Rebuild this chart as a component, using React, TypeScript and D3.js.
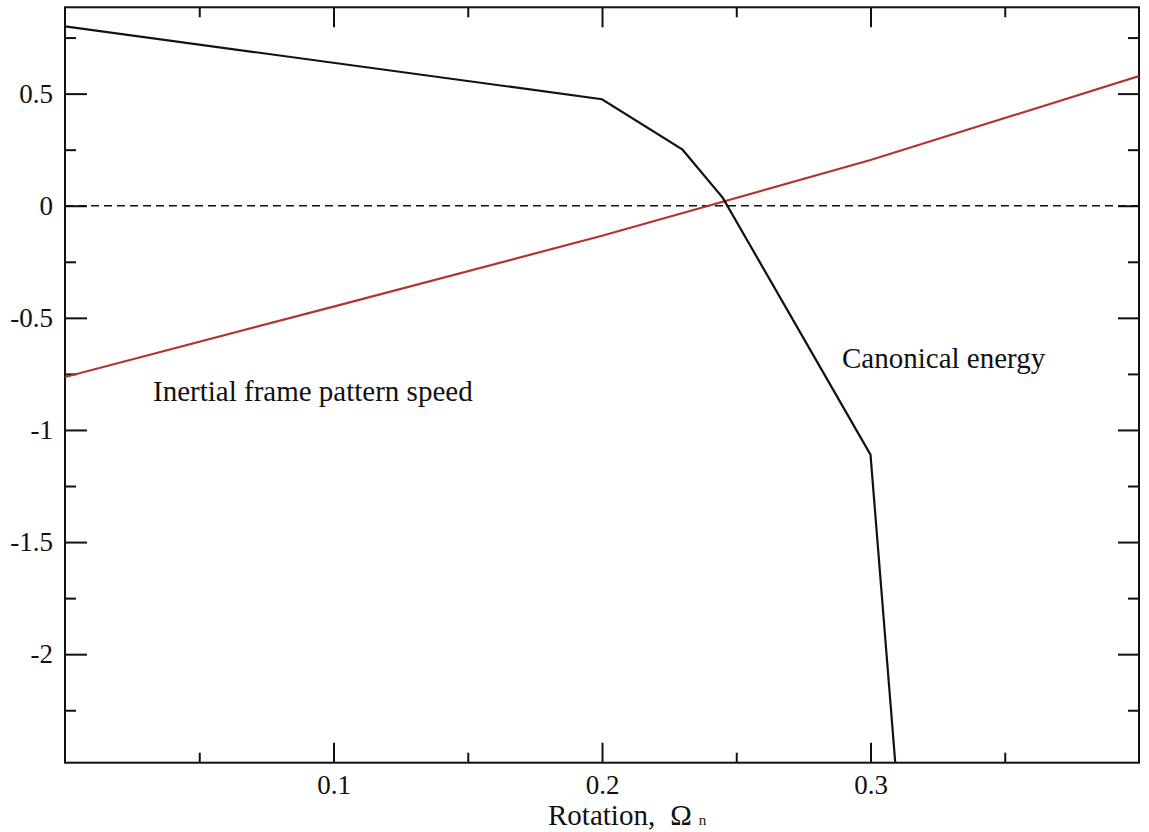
import React, { useEffect, useRef } from "react";
import * as d3 from "d3";

// rotation values (x) and the two curves
const canonicalX = [0, 0.2, 0.23, 0.245, 0.3, 0.31];
const canonicalY = [0.8, 0.475, 0.25, 0.035, -1.11, -2.6];
const patternX = [0, 0.1, 0.2, 0.3, 0.4];
const patternY = [-0.764, -0.45, -0.134, 0.204, 0.578];

const xMajor = [0.1, 0.2, 0.3];
const xMinor = [0.05, 0.15, 0.25, 0.35];
const yMajor = [0.5, 0, -0.5, -1, -1.5, -2];
const yMinor = [0.75, 0.25, -0.25, -0.75, -1.25, -1.75, -2.25];

const App = () => {
  const ref = useRef<SVGSVGElement>(null);

  useEffect(() => {
    draw();
  });

  const draw = () => {
    const root = d3.select(ref.current);
    root.selectAll("*").remove();

    const margin = { top: 7.3, left: 65, right: 10, bottom: 69.3 };
    const width = 1149 - margin.left - margin.right;
    const height = 832 - margin.top - margin.bottom;
    const font = "'Liberation Serif', 'Times New Roman', serif";

    const x = d3.scaleLinear().domain([0, 0.4]).range([0, width]);
    const y = d3.scaleLinear().domain([-2.484, 0.885]).range([height, 0]);

    const svg = root
      .append("g")
      .attr("transform", `translate(${margin.left}, ${margin.top})`);

    svg
      .append("defs")
      .append("clipPath")
      .attr("id", "plotClip")
      .append("rect")
      .attr("width", width)
      .attr("height", height);

    // ticks on all four sides, pointing inward
    const axes: [any, number, string, boolean][] = [
      [d3.axisBottom(x).tickValues(xMajor).tickSize(-20), height, "b", true],
      [d3.axisBottom(x).tickValues(xMinor).tickSize(-10), height, "b", false],
      [d3.axisTop(x).tickValues(xMajor).tickSize(-20), 0, "t", false],
      [d3.axisTop(x).tickValues(xMinor).tickSize(-10), 0, "t", false],
      [d3.axisLeft(y).tickValues(yMajor).tickSize(-22), 0, "l", true],
      [d3.axisLeft(y).tickValues(yMinor).tickSize(-11), 0, "l", false],
      [d3.axisRight(y).tickValues(yMajor).tickSize(-21), width, "r", false],
      [d3.axisRight(y).tickValues(yMinor).tickSize(-11), width, "r", false],
    ];

    axes.forEach(([axis, offset, side, withLabels]) => {
      axis
        .tickSizeOuter(0)
        .tickPadding(12)
        .tickFormat(withLabels ? (d: number) => String(d) : () => "");
      const g = svg
        .append("g")
        .attr(
          "transform",
          side === "b" || side === "t" ? `translate(0, ${offset})` : `translate(${offset}, 0)`
        )
        .call(axis);
      g.select(".domain").remove();
      g.selectAll("line").attr("stroke", "#111").attr("stroke-width", 2);
      g.selectAll("text")
        .attr("fill", "#111")
        .style("font-family", font)
        .style("font-size", "27px");
      if (side === "b") g.selectAll("text").attr("y", 12).attr("dy", "0.71em");
    });

    svg
      .append("rect")
      .attr("width", width)
      .attr("height", height)
      .attr("fill", "none")
      .attr("stroke", "#111")
      .attr("stroke-width", 2);

    const plot = svg.append("g").attr("clip-path", "url(#plotClip)");

    plot
      .append("line")
      .attr("x1", x(0))
      .attr("x2", x(0.4))
      .attr("y1", y(0))
      .attr("y2", y(0))
      .attr("stroke", "#111")
      .attr("stroke-width", 1.6)
      .attr("stroke-dasharray", "8,5");

    const line = d3
      .line<[number, number]>()
      .x((d) => x(d[0]))
      .y((d) => y(d[1]));

    plot
      .append("path")
      .datum(patternX.map((d, i) => [d, patternY[i]] as [number, number]))
      .attr("fill", "none")
      .attr("stroke", "#b3342f")
      .attr("stroke-width", 2.2)
      .attr("d", line);

    plot
      .append("path")
      .datum(canonicalX.map((d, i) => [d, canonicalY[i]] as [number, number]))
      .attr("fill", "none")
      .attr("stroke", "#111")
      .attr("stroke-width", 2.2)
      .attr("d", line);

    svg
      .append("text")
      .attr("x", 153 - margin.left)
      .attr("y", 401 - margin.top)
      .style("font-family", font)
      .style("font-size", "29px")
      .attr("fill", "#111")
      .text("Inertial frame pattern speed");

    svg
      .append("text")
      .attr("x", 842 - margin.left)
      .attr("y", 368 - margin.top)
      .style("font-family", font)
      .style("font-size", "29px")
      .attr("fill", "#111")
      .text("Canonical energy");

    const title = svg
      .append("text")
      .attr("x", 548 - margin.left)
      .attr("y", 825 - margin.top)
      .style("font-family", font)
      .style("font-size", "29px")
      .attr("fill", "#111");
    title.append("tspan").text("Rotation,");
    title.append("tspan").attr("dx", 15).text("Ω");
    title.append("tspan").attr("dx", 7).style("font-size", "15px").text("n");
  };

  return (
    <div style={{ position: "absolute", left: 0, top: 0 }}>
      <svg ref={ref} width={1149} height={832} style={{ display: "block", background: "#fff" }} />
    </div>
  );
};

export default App;
